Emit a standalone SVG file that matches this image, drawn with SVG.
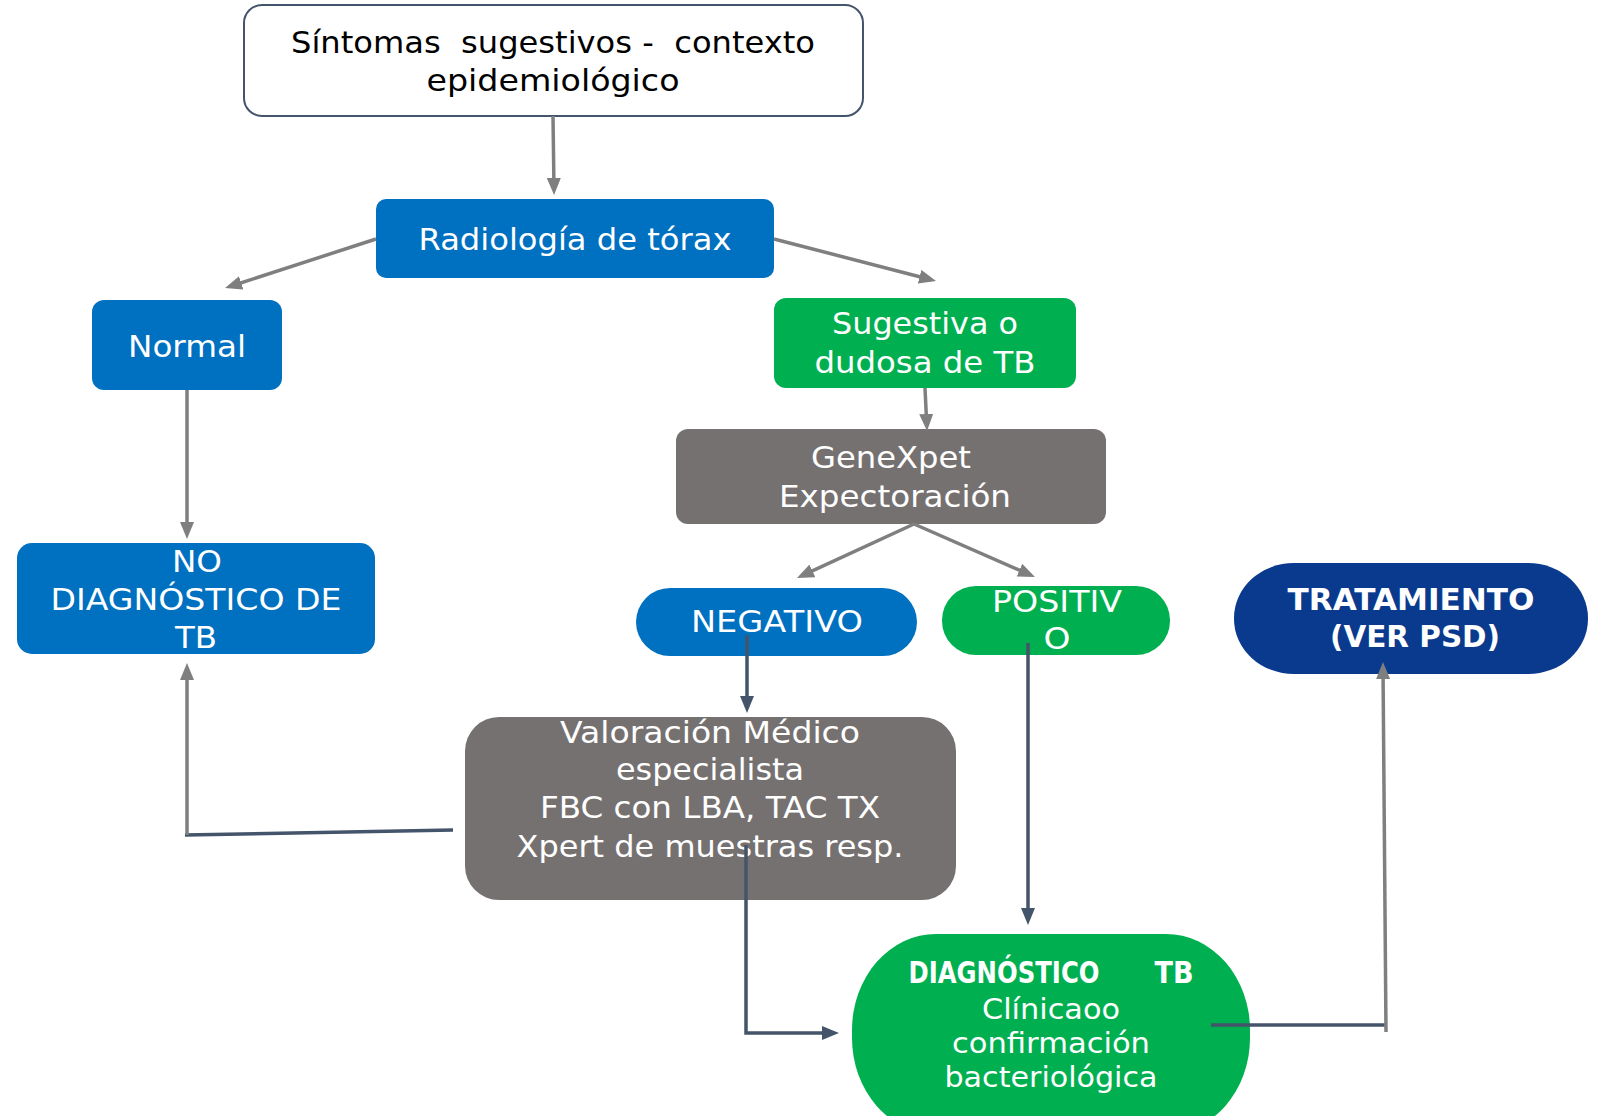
<svg xmlns="http://www.w3.org/2000/svg" width="1601" height="1116" viewBox="0 0 1601 1116">
<style>
text{font-family:"DejaVu Sans","Liberation Sans",sans-serif;text-anchor:middle;font-size:31px;fill:#ffffff;white-space:pre}
.dk{fill:#000000}
.b{font-weight:bold}
.sm{font-size:29px}
.g{stroke:#7f7f7f;stroke-width:3.5;fill:none}
.d{stroke:#44546a;stroke-width:3.5;fill:none}
</style>
<defs>
<marker id="ag" markerUnits="userSpaceOnUse" markerWidth="17" markerHeight="14" refX="12" refY="7" orient="auto"><path d="M0,0 L17,7 L0,14 z" fill="#7f7f7f"/></marker>
<marker id="ad" markerUnits="userSpaceOnUse" markerWidth="17" markerHeight="14" refX="12" refY="7" orient="auto"><path d="M0,0 L17,7 L0,14 z" fill="#44546a"/></marker>
</defs>
<rect width="1601" height="1116" fill="#ffffff"/>
<g id="n-sintomas">
<rect x="244" y="5" width="619" height="111" rx="18" fill="#ffffff" stroke="#44546a" stroke-width="2"/>
<text class="dk" x="553" y="53" textLength="524" lengthAdjust="spacingAndGlyphs">Síntomas  sugestivos -  contexto</text>
<text class="dk" x="553" y="91" textLength="253" lengthAdjust="spacingAndGlyphs">epidemiológico</text>
</g>
<g id="n-radiologia">
<rect x="376" y="199" width="398" height="79" rx="10" fill="#0070c0"/>
<text x="575" y="250" textLength="313" lengthAdjust="spacingAndGlyphs">Radiología de tórax</text>
</g>
<g id="n-normal">
<rect x="92" y="300" width="190" height="90" rx="12" fill="#0070c0"/>
<text x="187" y="357" textLength="118" lengthAdjust="spacingAndGlyphs">Normal</text>
</g>
<g id="n-nodiag">
<rect x="17" y="543" width="358" height="111" rx="15" fill="#0070c0"/>
<text x="197" y="572" textLength="50" lengthAdjust="spacingAndGlyphs">NO</text>
<text x="196" y="610" textLength="291" lengthAdjust="spacingAndGlyphs">DIAGNÓSTICO DE</text>
<text x="196" y="648" textLength="42" lengthAdjust="spacingAndGlyphs">TB</text>
</g>
<g id="n-sugestiva">
<rect x="774" y="298" width="302" height="90" rx="12" fill="#00b050"/>
<text x="925" y="334" textLength="186" lengthAdjust="spacingAndGlyphs">Sugestiva o</text>
<text x="925" y="373" textLength="221" lengthAdjust="spacingAndGlyphs">dudosa de TB</text>
</g>
<g id="n-genexpet">
<rect x="676" y="429" width="430" height="95" rx="12" fill="#767171"/>
<text x="891" y="468" textLength="160" lengthAdjust="spacingAndGlyphs">GeneXpet</text>
<text x="895" y="507" textLength="232" lengthAdjust="spacingAndGlyphs">Expectoración</text>
</g>
<g id="n-negativo">
<rect x="636" y="588" width="281" height="68" rx="34" fill="#0070c0"/>
<text x="777" y="632" textLength="172" lengthAdjust="spacingAndGlyphs">NEGATIVO</text>
</g>
<g id="n-positivo">
<rect x="942" y="586" width="228" height="69" rx="34" fill="#00b050"/>
<text x="1057" y="612" textLength="130" lengthAdjust="spacingAndGlyphs">POSITIV</text>
<text x="1057" y="649" textLength="27" lengthAdjust="spacingAndGlyphs">O</text>
</g>
<g id="n-tratamiento">
<rect x="1234" y="563" width="354" height="111" rx="60" ry="55" fill="#0a3a8e"/>
<text class="b" x="1411" y="610" font-size="29" textLength="247" lengthAdjust="spacingAndGlyphs">TRATAMIENTO</text>
<text class="b" x="1415" y="647" font-size="29" textLength="170" lengthAdjust="spacingAndGlyphs">(VER PSD)</text>
</g>
<g id="n-valoracion">
<rect x="465" y="717" width="491" height="183" rx="34" fill="#767171"/>
<text x="710" y="743" textLength="300" lengthAdjust="spacingAndGlyphs">Valoración Médico</text>
<text x="710" y="780" textLength="188" lengthAdjust="spacingAndGlyphs">especialista</text>
<text x="710" y="818" textLength="340" lengthAdjust="spacingAndGlyphs">FBC con LBA, TAC TX</text>
<text x="710" y="857" textLength="387" lengthAdjust="spacingAndGlyphs">Xpert de muestras resp.</text>
</g>
<g id="n-diagnostico">
<rect x="852" y="934" width="398" height="200" rx="84" ry="96" fill="#00b050"/>
<text class="b" x="1004" y="983" font-size="28" textLength="191" lengthAdjust="spacingAndGlyphs">DIAGNÓSTICO</text>
<text class="b" x="1174" y="983" font-size="28" textLength="39" lengthAdjust="spacingAndGlyphs">TB</text>
<text class="sm" x="1051" y="1019" textLength="138" lengthAdjust="spacingAndGlyphs">Clínicaoo</text>
<text class="sm" x="1051" y="1053" textLength="198" lengthAdjust="spacingAndGlyphs">confirmación</text>
<text class="sm" x="1051" y="1087" textLength="213" lengthAdjust="spacingAndGlyphs">bacteriológica</text>
</g>
<g id="connectors">
<line class="g" x1="553" y1="116" x2="554" y2="190" marker-end="url(#ag)"/>
<line class="g" x1="376" y1="239" x2="229.8" y2="286.5" marker-end="url(#ag)"/>
<line class="g" x1="774" y1="239" x2="931.2" y2="279.7" marker-end="url(#ag)"/>
<line class="g" x1="187" y1="390" x2="187" y2="534" marker-end="url(#ag)"/>
<line class="g" x1="925" y1="388" x2="926.8" y2="426" marker-end="url(#ag)"/>
<line class="g" x1="914" y1="524" x2="801.5" y2="575.9" marker-end="url(#ag)"/>
<line class="g" x1="914" y1="524" x2="1030.4" y2="575" marker-end="url(#ag)"/>
<line class="d" x1="747" y1="635" x2="747" y2="708" marker-end="url(#ad)"/>
<line class="d" x1="1028" y1="643" x2="1028" y2="920" marker-end="url(#ad)"/>
<polyline class="d" points="746,845 746,1033 834,1033" marker-end="url(#ad)"/>
<line class="d" x1="453" y1="830" x2="185" y2="835" stroke-width="4"/>
<line class="g" x1="187" y1="835" x2="187" y2="668" marker-end="url(#ag)"/>
<line class="d" x1="1211" y1="1025" x2="1385" y2="1025" stroke-width="4"/>
<line class="g" x1="1386" y1="1032" x2="1383" y2="667" marker-end="url(#ag)"/>
</g>
</svg>
